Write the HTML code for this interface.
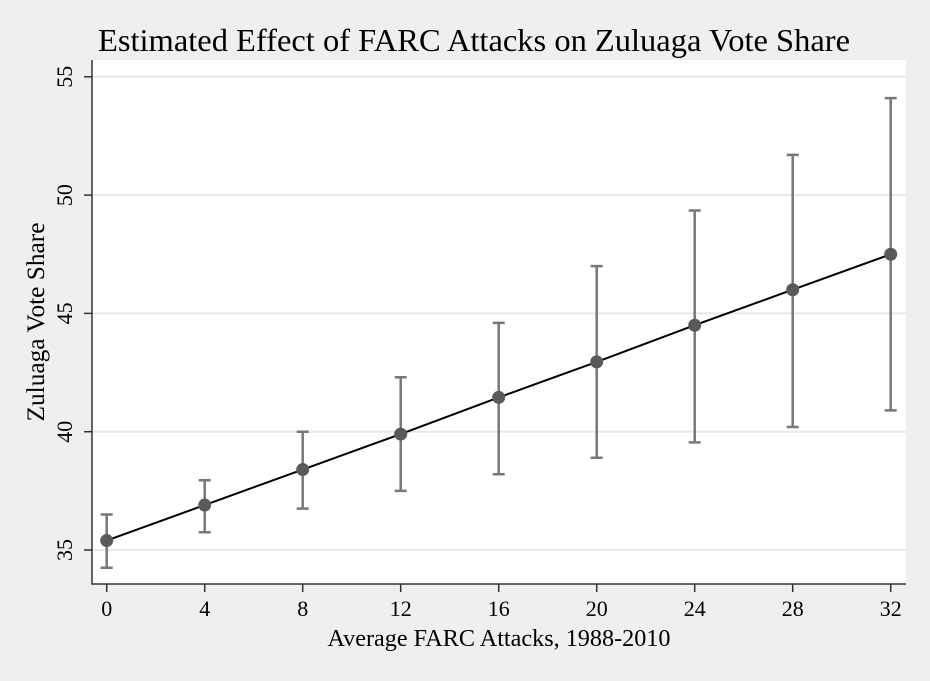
<!DOCTYPE html>
<html><head><meta charset="utf-8"><style>
body{margin:0;background:#efefef;}
svg text{font-family:"Liberation Serif",serif;fill:#000;}
</style></head><body>
<svg width="930" height="676" xmlns="http://www.w3.org/2000/svg">
<rect x="0" y="0" width="930" height="676" fill="#efefef"/>
<rect x="92" y="60" width="814" height="524" fill="#fff"/>
<text x="98" y="51" font-size="32" textLength="752" lengthAdjust="spacingAndGlyphs">Estimated Effect of FARC Attacks on Zuluaga Vote Share</text>
<g id="grid"></g><g id="axes"></g><g id="marks"></g>
<text x="499" y="646" font-size="24" text-anchor="middle" textLength="343" lengthAdjust="spacingAndGlyphs">Average FARC Attacks, 1988-2010</text>
<text transform="translate(44,322) rotate(-90)" font-size="25" text-anchor="middle" textLength="199" lengthAdjust="spacingAndGlyphs">Zuluaga Vote Share</text>
</svg>
<script>
const xs=[0,4,8,12,16,20,24,28,32];
const est=[35.4,36.9,38.4,39.9,41.45,42.95,44.5,46.0,47.5];
const lo=[34.25,35.75,36.75,37.5,38.2,38.9,39.55,40.2,40.9];
const hi=[36.5,37.95,40.0,42.3,44.6,47.0,49.35,51.7,54.1];
const xTicks=[0,4,8,12,16,20,24,28,32];
const yTicks=[35,40,45,50,55];
const NS="http://www.w3.org/2000/svg";
const X=v=>106.7+v*24.5, Y=v=>550-(v-35)*23.66;
function mk(p,t,a){const e=document.createElementNS(NS,t);for(const k in a)e.setAttribute(k,a[k]);document.getElementById(p).appendChild(e);return e;}
yTicks.forEach(t=>{
 const g=mk('grid','line',{x1:92,x2:906,y1:Y(t),y2:Y(t),stroke:'#e8e8e8','stroke-width':2});
 
 
 const tk=mk('axes','line',{x1:84,x2:92,y1:Y(t),y2:Y(t),stroke:'#333','stroke-width':1.5});
 
 
 const tx=mk('axes','text',{transform:`translate(72,${Y(t)}) rotate(-90)`,'font-size':22,'text-anchor':'middle'});
 tx.textContent=t;
 
 
});
xTicks.forEach(t=>{
 const tk=mk('axes','line',{x1:X(t),x2:X(t),y1:584,y2:592,stroke:'#333','stroke-width':1.5});
 
 
 const tx=mk('axes','text',{x:X(t),y:616,'font-size':22,'text-anchor':'middle'});
 tx.textContent=t;
 
 
});
const ax=mk('axes','path',{d:'M92 60 V584 H906',fill:'none',stroke:'#333','stroke-width':1.5});


xs.forEach((x,i)=>{
 const e=mk('marks','path',{d:`M${X(x)} ${Y(lo[i])}V${Y(hi[i])}M${X(x)-6} ${Y(lo[i])}h12M${X(x)-6} ${Y(hi[i])}h12`,stroke:'#777','stroke-width':2.5,fill:'none'});
 
 
});
const ln=mk('marks','polyline',{points:xs.map((x,i)=>X(x)+','+Y(est[i])).join(' '),fill:'none',stroke:'#000','stroke-width':2});


xs.forEach((x,i)=>{
 const c=mk('marks','circle',{cx:X(x),cy:Y(est[i]),r:6.5,fill:'#5a5a5a'});
 
 
});
</script>
</body></html>
